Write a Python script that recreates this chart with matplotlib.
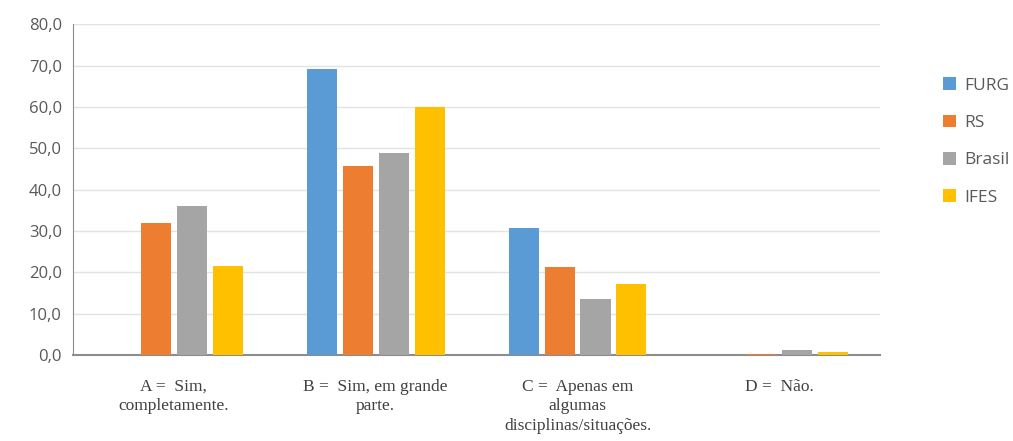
import numpy as np
from matplotlib import pyplot as plt

categories = ['A =  Sim,\ncompletamente.', 'B =  Sim, em grande\nparte.',
              'C =  Apenas em\nalgumas\ndisciplinas/situações.', 'D =  Não.']
series = ['FURG', 'RS', 'Brasil', 'IFES']
furg = [0.0, 69.2, 30.8, 0.0]
rs = [32.0, 45.8, 21.2, 0.3]
brasil = [36.0, 48.8, 13.5, 1.2]
ifes = [21.5, 60.0, 17.2, 0.8]
colors = ['#5B9BD5', '#ED7D31', '#A5A5A5', '#FFC000']

fig = plt.figure(figsize=(10.13, 4.41), dpi=100)
ax = fig.add_axes([0.072, 0.195, 0.797, 0.75])

x = np.arange(len(categories))
width = 0.149
step = 0.178
for i, (name, vals) in enumerate(zip(series, [furg, rs, brasil, ifes])):
    ax.bar(x + (i - 1.5) * step, vals, width, color=colors[i], label=name, zorder=3)

ax.set_xlim(-0.5, 3.5)
ax.set_ylim(0, 80)
ax.set_yticks(np.arange(0, 81, 10))
ax.set_yticklabels([f'{v:.1f}'.replace('.', ',') for v in np.arange(0, 81, 10)],
                   fontsize=12, color='#595959', family='Open Sans')
ax.set_xticks(x)
ax.set_xticklabels(categories, fontsize=12.5, color='#404040', family='Liberation Serif',
                   linespacing=1.3)
ax.tick_params(axis='x', length=0, pad=17)
ax.tick_params(axis='y', length=0, pad=8)
ax.grid(axis='y', color='#E3E3E3', linewidth=1, zorder=0)
for s in ['top', 'right']:
    ax.spines[s].set_visible(False)
ax.spines['left'].set_color('#8C8C8C')
ax.spines['bottom'].set_color('#8C8C8C')
ax.spines['bottom'].set_linewidth(1.5)

leg = fig.legend(loc='upper left', bbox_to_anchor=(0.915, 0.86), frameon=False,
                 handlelength=0.75, handleheight=0.75, handletextpad=0.5,
                 labelspacing=1.2, prop={'family': 'Open Sans', 'size': 12.5})
for t in leg.get_texts():
    t.set_color('#595959')

fig.savefig('out.png', dpi=100)
